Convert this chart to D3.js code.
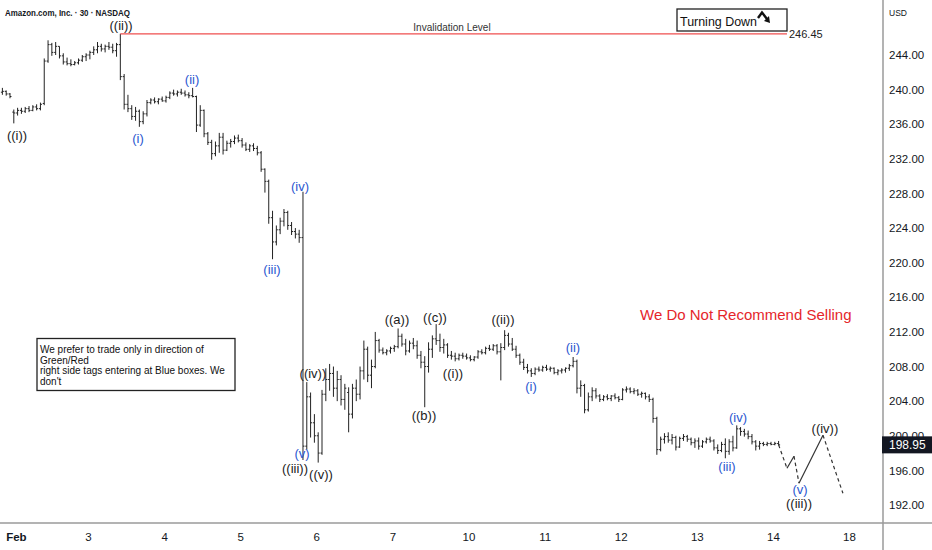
<!DOCTYPE html>
<html>
<head>
<meta charset="utf-8">
<script src="https://cdn.jsdelivr.net/npm/d3@7"></script>
<style>
  html, body { margin: 0; padding: 0; background: #fff; }
  svg { display: block; font-family: "Liberation Sans", Arial, sans-serif; }
</style>
</head>
<body>
<div id="chart"></div>
<script>
// session labels on the time axis (one per trading day)
const sessions = ["Feb", "3", "4", "5", "6", "7", "10", "11", "12", "13", "14", "18"];
const barsPerDay = 20;

// 30 min OHLC bars, [open, high, low, close]
const barsPrev = [
  [239.7, 240.2, 239.4, 239.8], [239.8, 239.9, 239.3, 239.5], [239.5, 239.6, 239.0, 239.2]
];
const barsFeb = [
  [237.4, 237.7, 236.1, 237.3], [237.3, 237.9, 237.0, 237.6], [237.6, 237.9, 237.2, 237.5],
  [237.5, 238.0, 237.3, 237.8], [237.8, 238.1, 237.4, 237.6], [237.6, 238.2, 237.5, 238.0],
  [238.0, 238.3, 237.6, 237.8], [237.8, 238.5, 237.6, 238.3], [238.4, 243.6, 238.2, 243.3],
  [243.3, 245.7, 243.1, 245.2], [245.2, 245.4, 243.9, 244.3], [244.3, 245.5, 244.0, 245.0],
  [245.0, 245.0, 243.6, 243.9], [243.9, 244.2, 242.9, 243.2], [243.2, 243.7, 242.8, 243.0],
  [243.0, 243.5, 242.7, 242.9], [242.9, 243.3, 242.8, 243.1], [243.1, 243.6, 242.9, 243.4],
  [243.4, 244.0, 243.2, 243.8], [243.8, 244.2, 243.3, 244.0]
];
const bars3 = [
  [244.0, 244.5, 243.5, 244.3], [244.3, 245.0, 244.0, 244.6], [244.6, 245.5, 244.2, 245.0],
  [245.0, 245.3, 244.4, 244.7], [244.7, 245.2, 244.3, 245.0], [245.0, 245.5, 244.6, 244.9],
  [244.9, 245.3, 244.2, 244.5], [244.5, 245.4, 243.8, 245.2], [245.2, 246.45, 241.1, 241.5],
  [241.5, 241.8, 237.7, 238.3], [238.3, 239.4, 237.4, 237.8], [237.8, 238.2, 236.5, 236.9],
  [236.9, 238.0, 236.4, 237.5], [237.5, 237.7, 235.7, 236.3], [236.3, 237.5, 236.0, 237.2],
  [237.2, 238.8, 236.9, 238.5], [238.5, 239.0, 238.3, 238.8], [238.8, 239.1, 238.4, 238.6],
  [238.6, 239.0, 238.3, 238.9], [238.9, 239.2, 238.6, 238.7]
];
const bars4 = [
  [238.7, 239.3, 238.5, 239.1], [239.1, 239.8, 238.9, 239.6], [239.6, 240.0, 239.3, 239.5],
  [239.5, 239.9, 239.2, 239.7], [239.7, 240.1, 239.4, 239.6], [239.6, 239.9, 239.2, 239.4],
  [239.4, 239.7, 239.0, 239.3], [239.3, 240.2, 239.1, 239.2], [239.2, 239.3, 235.1, 235.9],
  [235.9, 238.2, 235.7, 237.6], [237.6, 237.7, 234.5, 234.9], [234.9, 235.1, 233.6, 233.9],
  [233.9, 234.2, 231.9, 232.6], [232.6, 234.0, 232.3, 233.5], [233.5, 235.0, 232.7, 234.5],
  [234.5, 235.0, 232.5, 233.0], [233.0, 234.1, 232.9, 233.8], [233.8, 234.3, 233.3, 234.0],
  [234.0, 234.7, 233.7, 234.4], [234.4, 234.8, 233.9, 234.1]
];
const bars5 = [
  [234.1, 234.4, 233.3, 233.6], [233.6, 233.9, 232.9, 233.1], [233.1, 233.7, 232.8, 233.5],
  [233.5, 233.8, 232.9, 233.2], [233.2, 233.5, 232.4, 232.7], [232.7, 232.9, 230.5, 230.8],
  [230.8, 230.9, 228.1, 229.4], [229.4, 229.6, 224.5, 225.2], [225.2, 226.0, 220.4, 222.4],
  [222.4, 224.3, 222.0, 223.8], [223.8, 225.2, 223.3, 224.8], [224.8, 226.2, 224.2, 225.8],
  [225.8, 226.0, 223.8, 224.3], [224.3, 224.7, 223.2, 223.6], [223.6, 224.0, 222.8, 223.3],
  [223.3, 223.8, 222.3, 222.9], [222.9, 228.2, 197.2, 198.8], [198.8, 206.2, 198.4, 204.5],
  [204.5, 205.0, 199.8, 201.5], [201.5, 202.5, 199.2, 200.0]
];
const bars6 = [
  [200.0, 200.4, 196.9, 198.0], [198.0, 205.3, 197.8, 204.8], [204.8, 207.8, 204.0, 206.5],
  [206.5, 208.3, 205.2, 207.2], [207.2, 208.0, 204.5, 205.5], [205.5, 207.5, 204.0, 206.5],
  [206.5, 207.0, 203.5, 204.2], [204.2, 206.0, 203.0, 205.5], [205.0, 205.6, 200.4, 202.5],
  [202.5, 206.0, 202.0, 205.5], [205.5, 206.5, 204.0, 204.8], [204.8, 208.0, 204.2, 207.5],
  [207.5, 211.0, 206.5, 210.0], [210.0, 210.3, 206.2, 207.0], [207.0, 208.8, 205.5, 208.0],
  [208.0, 212.0, 207.8, 211.0], [211.0, 211.2, 209.6, 209.9], [209.9, 210.2, 209.4, 209.6],
  [209.6, 210.0, 209.3, 209.8], [209.8, 210.3, 209.5, 210.1]
];
const bars7 = [
  [210.1, 210.5, 209.7, 210.3], [210.3, 212.4, 210.1, 211.5], [211.5, 211.8, 210.3, 210.6],
  [210.6, 211.2, 209.3, 209.8], [209.8, 211.0, 209.6, 210.7], [210.7, 211.3, 210.0, 210.4],
  [210.4, 211.0, 208.9, 209.3], [209.3, 209.8, 207.8, 208.5], [208.5, 209.2, 203.3, 208.0],
  [208.0, 210.8, 207.3, 210.0], [210.0, 211.6, 209.0, 211.2], [211.2, 212.9, 210.5, 211.0],
  [211.0, 211.8, 209.7, 210.2], [210.2, 211.2, 209.5, 210.5], [210.5, 210.7, 209.0, 209.3],
  [209.3, 209.8, 208.8, 209.2], [209.2, 209.6, 208.6, 208.9], [208.9, 209.5, 208.7, 209.3],
  [209.3, 209.6, 208.9, 209.2], [209.2, 209.5, 208.8, 209.0]
];
const bars10 = [
  [209.0, 209.3, 208.6, 208.8], [208.8, 209.2, 208.6, 209.1], [209.1, 209.9, 208.9, 209.7],
  [209.7, 210.0, 209.4, 209.6], [209.6, 210.3, 209.4, 210.1], [210.1, 210.5, 209.8, 210.0],
  [210.0, 210.6, 209.8, 210.4], [210.4, 210.6, 209.4, 209.7], [209.7, 210.7, 206.4, 210.2],
  [210.2, 212.2, 209.9, 211.6], [211.6, 211.9, 210.3, 210.6], [210.6, 211.3, 209.8, 210.0],
  [210.0, 210.4, 209.0, 209.3], [209.3, 209.5, 208.2, 208.5], [208.5, 208.9, 207.6, 207.9],
  [207.9, 208.3, 207.2, 207.5], [207.5, 207.8, 206.8, 207.2], [207.2, 207.9, 207.0, 207.7],
  [207.7, 208.0, 207.4, 207.6], [207.6, 208.1, 207.4, 207.9]
];
const bars11 = [
  [207.9, 208.2, 207.5, 207.7], [207.7, 208.0, 207.4, 207.8], [207.8, 207.9, 207.1, 207.3],
  [207.3, 207.7, 207.0, 207.5], [207.5, 207.8, 207.2, 207.6], [207.6, 207.9, 207.3, 207.8],
  [207.8, 208.3, 207.5, 208.1], [208.1, 209.1, 207.9, 208.6], [208.6, 208.8, 204.9, 205.5],
  [205.5, 206.4, 204.5, 205.8], [205.8, 206.0, 202.6, 203.0], [203.0, 205.0, 202.8, 204.5],
  [204.5, 205.6, 204.0, 205.2], [205.2, 205.5, 204.3, 204.6], [204.6, 204.8, 203.9, 204.2],
  [204.2, 204.7, 204.0, 204.5], [204.5, 204.8, 204.1, 204.3], [204.3, 204.7, 204.0, 204.6],
  [204.6, 204.9, 204.2, 204.4], [204.4, 204.6, 203.9, 204.2]
];
const bars12 = [
  [204.2, 205.5, 204.1, 205.3], [205.3, 205.7, 205.0, 205.4], [205.4, 205.6, 204.9, 205.1],
  [205.1, 205.5, 204.8, 205.2], [205.2, 205.4, 204.6, 204.8], [204.8, 205.1, 204.4, 204.9],
  [204.9, 205.0, 204.2, 204.5], [204.5, 204.8, 203.9, 204.2], [204.2, 204.4, 201.5, 202.0],
  [202.0, 202.2, 197.8, 198.4], [198.4, 199.9, 198.2, 199.6], [199.6, 200.3, 199.1, 199.9],
  [199.9, 200.4, 199.2, 199.5], [199.5, 200.2, 199.0, 199.8], [199.8, 200.0, 198.3, 198.7],
  [198.7, 199.9, 198.6, 199.7], [199.7, 200.2, 199.4, 199.9], [199.9, 200.1, 199.3, 199.6],
  [199.6, 199.8, 198.9, 199.2], [199.2, 199.7, 198.6, 199.4]
];
const bars13 = [
  [199.4, 199.8, 198.4, 198.8], [198.8, 199.5, 198.6, 199.3], [199.3, 199.8, 199.1, 199.6],
  [199.6, 199.9, 199.2, 199.4], [199.4, 199.6, 198.3, 198.6], [198.6, 199.0, 197.9, 198.3],
  [198.3, 199.3, 198.1, 199.0], [199.0, 199.7, 197.4, 198.2], [198.2, 199.6, 197.8, 199.3],
  [199.3, 200.0, 198.2, 198.6], [198.6, 201.2, 198.5, 200.8], [200.8, 201.0, 200.0, 200.5],
  [200.5, 200.8, 199.9, 200.2], [200.2, 200.6, 199.6, 199.9], [199.9, 200.2, 199.0, 199.3],
  [199.3, 199.5, 198.3, 198.8], [198.8, 199.4, 198.4, 199.1], [199.1, 199.3, 198.8, 199.0],
  [199.0, 199.3, 198.8, 199.1], [199.1, 199.3, 198.9, 199.0]
];
const bars14 = [
  [199.0, 199.3, 198.9, 199.1], [199.1, 199.4, 198.9, 198.95]
];

const lastPrice = 198.95;
const invalidation = { price: 246.45, from: 1.425, to: 10.185 };
const priceTicks = d3.range(192, 245, 4);

// projected path, [time in sessions, price]
const projection = [
  [10.075, 198.95], [10.185, 196.25], [10.277, 197.64],
  [10.343, 194.52], [10.658, 200.07], [10.92, 193.36]
];

// Elliott wave labels, [text, time, price under the text]
const waveLabels = [
  ["((i))", 0.067, 233.94], ["((ii))", 1.434, 246.66], ["(i)", 1.657, 233.6],
  ["(ii)", 2.367, 240.42], ["(iii)", 3.418, 218.45], ["(iv)", 3.786, 228.05],
  ["((iv))", 3.956, 206.43], ["(v)", 3.812, 197.2], ["((iii))", 3.72, 195.45],
  ["((v))", 4.062, 194.75], ["((a))", 5.06, 212.67], ["((b))", 5.415, 201.57],
  ["((c))", 5.56, 212.9], ["((i))", 5.796, 206.43], ["((ii))", 6.453, 212.67],
  ["(i)", 6.821, 204.92], ["(ii)", 7.373, 209.43], ["(iii)", 9.397, 195.68],
  ["(iv)", 9.541, 201.34], ["(v)", 10.356, 193.02], ["((iii))", 10.343, 191.4],
  ["((iv))", 10.684, 200.07]
];

const noteLines = [
  "We prefer to trade only in direction of",
  "Green/Red",
  "right side tags entering at Blue boxes. We",
  "don't"
];

const width = 932, height = 550;
const axisX = 883, axisY = 523;

const x = d3.scaleLinear().domain([0, 11]).range([11.9, 849]);
const y = d3.scaleLinear().domain([192, 244]).range([505, 55]);

const svg = d3.select("#chart").append("svg")
  .attr("width", width)
  .attr("height", height);

// flatten days into bars with a time position
const days = [barsFeb, bars3, bars4, bars5, bars6, bars7, bars10, bars11, bars12, bars13, bars14];
let bars = barsPrev.map((b, i) => ({ t: -1 + (barsPerDay - barsPrev.length + i + 0.5) / barsPerDay, o: b[0], h: b[1], l: b[2], c: b[3] }));
days.forEach((day, d) => {
  day.forEach((b, i) => {
    bars.push({ t: d + (i + 0.5) / barsPerDay, o: b[0], h: b[1], l: b[2], c: b[3] });
  });
});

const tick = 1.5;
svg.append("path")
  .attr("d", bars.map(b => {
    const xx = x(b.t);
    return `M${xx},${y(b.h)}V${y(b.l)}M${xx - tick},${y(b.o)}H${xx}M${xx},${y(b.c)}H${xx + tick}`;
  }).join(""))
  .attr("fill", "none")
  .attr("stroke", "#222")
  .attr("stroke-width", 1);

// invalidation level
svg.append("line")
  .attr("x1", x(invalidation.from)).attr("x2", x(invalidation.to))
  .attr("y1", y(invalidation.price)).attr("y2", y(invalidation.price))
  .attr("stroke", "#ef4f4f")
  .attr("stroke-width", 1.2);
svg.append("text")
  .attr("x", x(5.783)).attr("y", y(invalidation.price) - 3)
  .attr("text-anchor", "middle")
  .attr("font-size", 10)
  .attr("fill", "#333")
  .text("Invalidation Level");
svg.append("text")
  .attr("x", x(invalidation.to) + 2).attr("y", y(invalidation.price) + 4)
  .attr("font-size", 11)
  .attr("fill", "#222")
  .text(invalidation.price.toFixed(2));

// projection
const line = d3.line().x(d => x(d[0])).y(d => y(d[1]));
for (let i = 0; i < projection.length - 1; i++) {
  svg.append("path")
    .attr("d", line([projection[i], projection[i + 1]]))
    .attr("fill", "none")
    .attr("stroke", "#333")
    .attr("stroke-width", 1.2)
    .attr("stroke-dasharray", i % 2 === 0 ? "3.5,3" : null);
}

// wave labels
svg.selectAll("text.wave")
  .data(waveLabels)
  .join("text")
  .attr("class", "wave")
  .attr("x", d => x(d[1]))
  .attr("y", d => y(d[2]) - 2)
  .attr("text-anchor", "middle")
  .attr("font-size", 13)
  .attr("fill", d => d[0].startsWith("((") ? "#1b1b1b" : "#2a56d0")
  .text(d => d[0]);

// axes
svg.append("line")
  .attr("x1", 0).attr("x2", width).attr("y1", axisY).attr("y2", axisY)
  .attr("stroke", "#9a9a9a").attr("stroke-width", 1.5);
svg.append("line")
  .attr("x1", axisX).attr("x2", axisX).attr("y1", 0).attr("y2", height)
  .attr("stroke", "#9a9a9a").attr("stroke-width", 1.5);

const yAxis = svg.append("g")
  .attr("transform", `translate(${axisX},0)`)
  .call(d3.axisRight(y).tickValues(priceTicks).tickFormat(d3.format(".2f")).tickSize(0).tickPadding(6));
yAxis.select(".domain").remove();
yAxis.selectAll("text").attr("font-size", 11.5).attr("fill", "#131722")
  .attr("font-family", "'Liberation Sans', Arial, sans-serif");

const xAxis = svg.append("g")
  .attr("transform", `translate(0,${axisY})`)
  .call(d3.axisBottom(x).tickValues(d3.range(sessions.length)).tickFormat(i => sessions[i]).tickSize(0).tickPadding(10));
xAxis.select(".domain").remove();
xAxis.selectAll("text").attr("font-size", 11.5).attr("fill", "#131722")
  .attr("font-family", "'Liberation Sans', Arial, sans-serif");
xAxis.selectAll("text").filter(d => d === 0).attr("font-weight", "bold").attr("dx", 4);

svg.append("text")
  .attr("x", axisX + 6).attr("y", 16)
  .attr("font-size", 8.5).attr("fill", "#131722")
  .text("USD");

// last price tag
svg.append("rect")
  .attr("x", axisX - 1).attr("y", y(lastPrice) - 8.5)
  .attr("width", width - axisX + 1).attr("height", 17)
  .attr("fill", "#131722");
svg.append("text")
  .attr("x", axisX + 6).attr("y", y(lastPrice) + 4)
  .attr("font-size", 12).attr("fill", "#fff")
  .text(lastPrice.toFixed(2));

// title
svg.append("text")
  .attr("x", 5).attr("y", 16)
  .attr("font-size", 9).attr("font-weight", 600).attr("fill", "#131722")
  .attr("textLength", 125).attr("lengthAdjust", "spacingAndGlyphs")
  .text("Amazon.com, Inc. · 30 · NASDAQ");

// Turning Down box
const tb = svg.append("g");
tb.append("rect")
  .attr("x", 677).attr("y", 9).attr("width", 110).attr("height", 22)
  .attr("fill", "#fff").attr("stroke", "#222").attr("stroke-width", 1.3);
tb.append("text")
  .attr("x", 680).attr("y", 26)
  .attr("font-size", 13.5).attr("fill", "#111")
  .attr("textLength", 77).attr("lengthAdjust", "spacingAndGlyphs")
  .text("Turning Down");
tb.append("path")
  .attr("d", "M758,18 L762,12.5 L767,19")
  .attr("fill", "none").attr("stroke", "#111").attr("stroke-width", 2.4);
tb.append("path")
  .attr("d", "M764,21 L770,23 L769,16 Z")
  .attr("fill", "#111");

// warning
svg.append("text")
  .attr("x", 640).attr("y", 320)
  .attr("font-size", 15).attr("fill", "#e5262b")
  .text("We Do Not Recommend Selling");

// note box
const nb = svg.append("g");
nb.append("rect")
  .attr("x", 37).attr("y", 338.5).attr("width", 198).attr("height", 52)
  .attr("fill", "#fff").attr("stroke", "#222").attr("stroke-width", 1.3);
nb.selectAll("text")
  .data(noteLines)
  .join("text")
  .attr("x", 40)
  .attr("y", (d, i) => 353 + i * 10.5)
  .attr("font-size", 10).attr("fill", "#111")
  .text(d => d);
</script>
</body>
</html>
